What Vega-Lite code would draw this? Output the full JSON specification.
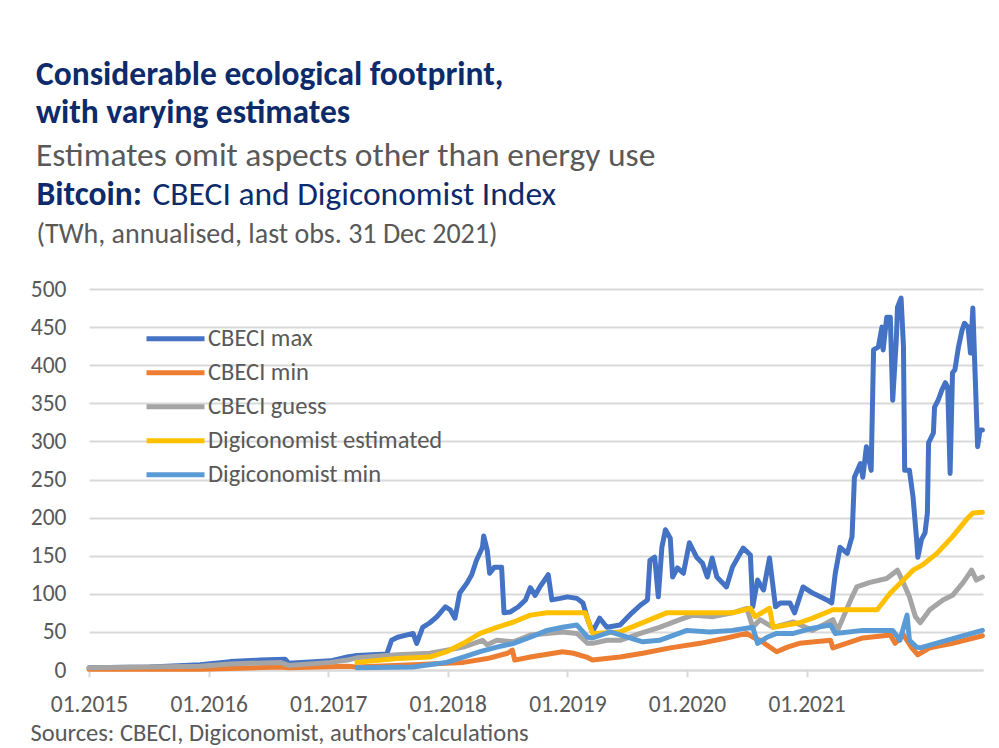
{
  "$schema": "https://vega.github.io/schema/vega-lite/v6.json",
  "autosize": {"type": "none"},
  "width": 894,
  "height": 381,
  "padding": {"left": 89, "top": 289, "right": 16, "bottom": 78},
  "background": "white",
  "title": {
    "text": ["Considerable ecological footprint,", "with varying estimates"],
    "subtitle": "Estimates omit  aspects other than energy use",
    "anchor": "start",
    "frame": "group",
    "dx": -53,
    "offset": 4,
    "font": "Calibri, Carlito, Lato, sans-serif",
    "fontSize": 33.5,
    "fontWeight": "bold",
    "color": "#0D2B6B",
    "lineHeight": 38,
    "subtitleFont": "Calibri, Carlito, Lato, sans-serif",
    "subtitleFontSize": 33.5,
    "subtitleColor": "#595959",
    "subtitlePadding": 9
  },
  "datasets": {
    "cbeci": [
      {"s":"CBECI max","t":2015.00,"v":3},{"s":"CBECI max","t":2015.51,"v":4},{"s":"CBECI max","t":2015.93,"v":7},{"s":"CBECI max","t":2016.18,"v":11},{"s":"CBECI max","t":2016.43,"v":13},{"s":"CBECI max","t":2016.64,"v":14},{"s":"CBECI max","t":2016.67,"v":9},{"s":"CBECI max","t":2017.02,"v":12},{"s":"CBECI max","t":2017.16,"v":17},{"s":"CBECI max","t":2017.24,"v":19},{"s":"CBECI max","t":2017.49,"v":21},{"s":"CBECI max","t":2017.53,"v":39},{"s":"CBECI max","t":2017.58,"v":43},{"s":"CBECI max","t":2017.71,"v":48},{"s":"CBECI max","t":2017.74,"v":35},{"s":"CBECI max","t":2017.79,"v":56},{"s":"CBECI max","t":2017.85,"v":62},{"s":"CBECI max","t":2017.91,"v":70},{"s":"CBECI max","t":2017.98,"v":83},{"s":"CBECI max","t":2018.02,"v":79},{"s":"CBECI max","t":2018.06,"v":68},{"s":"CBECI max","t":2018.10,"v":101},{"s":"CBECI max","t":2018.16,"v":114},{"s":"CBECI max","t":2018.20,"v":125},{"s":"CBECI max","t":2018.24,"v":144},{"s":"CBECI max","t":2018.29,"v":161},{"s":"CBECI max","t":2018.30,"v":176},{"s":"CBECI max","t":2018.33,"v":157},{"s":"CBECI max","t":2018.35,"v":127},{"s":"CBECI max","t":2018.39,"v":135},{"s":"CBECI max","t":2018.45,"v":135},{"s":"CBECI max","t":2018.47,"v":75},{"s":"CBECI max","t":2018.52,"v":76},{"s":"CBECI max","t":2018.59,"v":83},{"s":"CBECI max","t":2018.65,"v":92},{"s":"CBECI max","t":2018.69,"v":108},{"s":"CBECI max","t":2018.73,"v":98},{"s":"CBECI max","t":2018.77,"v":109},{"s":"CBECI max","t":2018.84,"v":125},{"s":"CBECI max","t":2018.87,"v":92},{"s":"CBECI max","t":2018.94,"v":94},{"s":"CBECI max","t":2019.00,"v":96},{"s":"CBECI max","t":2019.08,"v":94},{"s":"CBECI max","t":2019.13,"v":88},{"s":"CBECI max","t":2019.17,"v":66},{"s":"CBECI max","t":2019.21,"v":50},{"s":"CBECI max","t":2019.27,"v":68},{"s":"CBECI max","t":2019.33,"v":56},{"s":"CBECI max","t":2019.44,"v":59},{"s":"CBECI max","t":2019.54,"v":75},{"s":"CBECI max","t":2019.61,"v":85},{"s":"CBECI max","t":2019.67,"v":92},{"s":"CBECI max","t":2019.69,"v":144},{"s":"CBECI max","t":2019.73,"v":148},{"s":"CBECI max","t":2019.76,"v":96},{"s":"CBECI max","t":2019.79,"v":161},{"s":"CBECI max","t":2019.82,"v":184},{"s":"CBECI max","t":2019.86,"v":173},{"s":"CBECI max","t":2019.88,"v":122},{"s":"CBECI max","t":2019.92,"v":134},{"s":"CBECI max","t":2019.97,"v":127},{"s":"CBECI max","t":2020.02,"v":167},{"s":"CBECI max","t":2020.08,"v":148},{"s":"CBECI max","t":2020.13,"v":140},{"s":"CBECI max","t":2020.17,"v":122},{"s":"CBECI max","t":2020.21,"v":147},{"s":"CBECI max","t":2020.25,"v":122},{"s":"CBECI max","t":2020.30,"v":114},{"s":"CBECI max","t":2020.33,"v":109},{"s":"CBECI max","t":2020.38,"v":135},{"s":"CBECI max","t":2020.47,"v":160},{"s":"CBECI max","t":2020.53,"v":151},{"s":"CBECI max","t":2020.55,"v":83},{"s":"CBECI max","t":2020.59,"v":118},{"s":"CBECI max","t":2020.64,"v":105},{"s":"CBECI max","t":2020.69,"v":147},{"s":"CBECI max","t":2020.74,"v":83},{"s":"CBECI max","t":2020.78,"v":88},{"s":"CBECI max","t":2020.86,"v":88},{"s":"CBECI max","t":2020.90,"v":75},{"s":"CBECI max","t":2020.97,"v":109},{"s":"CBECI max","t":2021.05,"v":101},{"s":"CBECI max","t":2021.17,"v":92},{"s":"CBECI max","t":2021.21,"v":88},{"s":"CBECI max","t":2021.24,"v":127},{"s":"CBECI max","t":2021.28,"v":161},{"s":"CBECI max","t":2021.34,"v":153},{"s":"CBECI max","t":2021.38,"v":175},{"s":"CBECI max","t":2021.40,"v":253},{"s":"CBECI max","t":2021.45,"v":271},{"s":"CBECI max","t":2021.47,"v":253},{"s":"CBECI max","t":2021.50,"v":293},{"s":"CBECI max","t":2021.54,"v":262},{"s":"CBECI max","t":2021.56,"v":420},{"s":"CBECI max","t":2021.60,"v":424},{"s":"CBECI max","t":2021.63,"v":450},{"s":"CBECI max","t":2021.64,"v":420},{"s":"CBECI max","t":2021.67,"v":463},{"s":"CBECI max","t":2021.70,"v":463},{"s":"CBECI max","t":2021.72,"v":354},{"s":"CBECI max","t":2021.75,"v":433},{"s":"CBECI max","t":2021.76,"v":476},{"s":"CBECI max","t":2021.79,"v":488},{"s":"CBECI max","t":2021.81,"v":424},{"s":"CBECI max","t":2021.82,"v":262},{"s":"CBECI max","t":2021.86,"v":262},{"s":"CBECI max","t":2021.89,"v":227},{"s":"CBECI max","t":2021.92,"v":171},{"s":"CBECI max","t":2021.93,"v":148},{"s":"CBECI max","t":2021.96,"v":171},{"s":"CBECI max","t":2021.99,"v":180},{"s":"CBECI max","t":2022.01,"v":206},{"s":"CBECI max","t":2022.02,"v":298},{"s":"CBECI max","t":2022.06,"v":311},{"s":"CBECI max","t":2022.07,"v":345},{"s":"CBECI max","t":2022.10,"v":354},{"s":"CBECI max","t":2022.13,"v":367},{"s":"CBECI max","t":2022.16,"v":377},{"s":"CBECI max","t":2022.18,"v":371},{"s":"CBECI max","t":2022.20,"v":258},{"s":"CBECI max","t":2022.22,"v":390},{"s":"CBECI max","t":2022.24,"v":394},{"s":"CBECI max","t":2022.27,"v":424},{"s":"CBECI max","t":2022.30,"v":446},{"s":"CBECI max","t":2022.32,"v":455},{"s":"CBECI max","t":2022.35,"v":450},{"s":"CBECI max","t":2022.37,"v":416},{"s":"CBECI max","t":2022.39,"v":475},{"s":"CBECI max","t":2022.43,"v":293},{"s":"CBECI max","t":2022.45,"v":315},{"s":"CBECI max","t":2022.47,"v":315},
      {"s":"CBECI min","t":2015.00,"v":1},{"s":"CBECI min","t":2015.93,"v":1},{"s":"CBECI min","t":2016.18,"v":2},{"s":"CBECI min","t":2016.60,"v":4},{"s":"CBECI min","t":2016.67,"v":3},{"s":"CBECI min","t":2017.16,"v":5},{"s":"CBECI min","t":2017.24,"v":4},{"s":"CBECI min","t":2017.71,"v":7},{"s":"CBECI min","t":2018.13,"v":10},{"s":"CBECI min","t":2018.33,"v":15},{"s":"CBECI min","t":2018.50,"v":22},{"s":"CBECI min","t":2018.54,"v":26},{"s":"CBECI min","t":2018.56,"v":13},{"s":"CBECI min","t":2018.69,"v":17},{"s":"CBECI min","t":2018.96,"v":24},{"s":"CBECI min","t":2019.05,"v":22},{"s":"CBECI min","t":2019.16,"v":17},{"s":"CBECI min","t":2019.21,"v":13},{"s":"CBECI min","t":2019.44,"v":17},{"s":"CBECI min","t":2019.63,"v":22},{"s":"CBECI min","t":2019.86,"v":29},{"s":"CBECI min","t":2020.11,"v":35},{"s":"CBECI min","t":2020.33,"v":42},{"s":"CBECI min","t":2020.50,"v":48},{"s":"CBECI min","t":2020.55,"v":43},{"s":"CBECI min","t":2020.61,"v":39},{"s":"CBECI min","t":2020.75,"v":24},{"s":"CBECI min","t":2020.84,"v":30},{"s":"CBECI min","t":2020.94,"v":35},{"s":"CBECI min","t":2021.20,"v":39},{"s":"CBECI min","t":2021.22,"v":29},{"s":"CBECI min","t":2021.47,"v":42},{"s":"CBECI min","t":2021.70,"v":46},{"s":"CBECI min","t":2021.74,"v":35},{"s":"CBECI min","t":2021.81,"v":46},{"s":"CBECI min","t":2021.88,"v":29},{"s":"CBECI min","t":2021.93,"v":20},{"s":"CBECI min","t":2022.03,"v":29},{"s":"CBECI min","t":2022.22,"v":35},{"s":"CBECI min","t":2022.47,"v":45},
      {"s":"CBECI guess","t":2015.00,"v":3},{"s":"CBECI guess","t":2015.93,"v":5},{"s":"CBECI guess","t":2016.18,"v":8},{"s":"CBECI guess","t":2016.60,"v":10},{"s":"CBECI guess","t":2016.67,"v":6},{"s":"CBECI guess","t":2017.02,"v":10},{"s":"CBECI guess","t":2017.16,"v":13},{"s":"CBECI guess","t":2017.24,"v":16},{"s":"CBECI guess","t":2017.58,"v":20},{"s":"CBECI guess","t":2017.85,"v":22},{"s":"CBECI guess","t":2018.13,"v":30},{"s":"CBECI guess","t":2018.29,"v":39},{"s":"CBECI guess","t":2018.33,"v":33},{"s":"CBECI guess","t":2018.41,"v":39},{"s":"CBECI guess","t":2018.55,"v":37},{"s":"CBECI guess","t":2018.69,"v":46},{"s":"CBECI guess","t":2018.83,"v":48},{"s":"CBECI guess","t":2018.96,"v":50},{"s":"CBECI guess","t":2019.08,"v":48},{"s":"CBECI guess","t":2019.17,"v":35},{"s":"CBECI guess","t":2019.21,"v":35},{"s":"CBECI guess","t":2019.33,"v":39},{"s":"CBECI guess","t":2019.44,"v":39},{"s":"CBECI guess","t":2019.61,"v":48},{"s":"CBECI guess","t":2019.77,"v":56},{"s":"CBECI guess","t":2019.94,"v":66},{"s":"CBECI guess","t":2020.05,"v":72},{"s":"CBECI guess","t":2020.22,"v":70},{"s":"CBECI guess","t":2020.38,"v":75},{"s":"CBECI guess","t":2020.50,"v":81},{"s":"CBECI guess","t":2020.55,"v":56},{"s":"CBECI guess","t":2020.61,"v":66},{"s":"CBECI guess","t":2020.72,"v":56},{"s":"CBECI guess","t":2020.89,"v":63},{"s":"CBECI guess","t":2021.05,"v":52},{"s":"CBECI guess","t":2021.22,"v":66},{"s":"CBECI guess","t":2021.26,"v":52},{"s":"CBECI guess","t":2021.38,"v":96},{"s":"CBECI guess","t":2021.42,"v":109},{"s":"CBECI guess","t":2021.53,"v":115},{"s":"CBECI guess","t":2021.67,"v":120},{"s":"CBECI guess","t":2021.76,"v":131},{"s":"CBECI guess","t":2021.81,"v":114},{"s":"CBECI guess","t":2021.86,"v":96},{"s":"CBECI guess","t":2021.91,"v":70},{"s":"CBECI guess","t":2021.95,"v":62},{"s":"CBECI guess","t":2022.03,"v":79},{"s":"CBECI guess","t":2022.14,"v":92},{"s":"CBECI guess","t":2022.22,"v":98},{"s":"CBECI guess","t":2022.31,"v":115},{"s":"CBECI guess","t":2022.38,"v":131},{"s":"CBECI guess","t":2022.42,"v":118},{"s":"CBECI guess","t":2022.47,"v":122}
    ],
    "digi": [
      {"s":"Digiconomist estimated","t":2017.24,"v":10},{"s":"Digiconomist estimated","t":2017.58,"v":15},{"s":"Digiconomist estimated","t":2017.85,"v":17},{"s":"Digiconomist estimated","t":2017.99,"v":24},{"s":"Digiconomist estimated","t":2018.13,"v":35},{"s":"Digiconomist estimated","t":2018.27,"v":48},{"s":"Digiconomist estimated","t":2018.41,"v":56},{"s":"Digiconomist estimated","t":2018.55,"v":63},{"s":"Digiconomist estimated","t":2018.69,"v":72},{"s":"Digiconomist estimated","t":2018.83,"v":75},{"s":"Digiconomist estimated","t":2019.15,"v":75},{"s":"Digiconomist estimated","t":2019.21,"v":48},{"s":"Digiconomist estimated","t":2019.44,"v":50},{"s":"Digiconomist estimated","t":2019.83,"v":75},{"s":"Digiconomist estimated","t":2020.38,"v":75},{"s":"Digiconomist estimated","t":2020.53,"v":81},{"s":"Digiconomist estimated","t":2020.57,"v":70},{"s":"Digiconomist estimated","t":2020.69,"v":81},{"s":"Digiconomist estimated","t":2020.72,"v":56},{"s":"Digiconomist estimated","t":2020.94,"v":62},{"s":"Digiconomist estimated","t":2021.05,"v":68},{"s":"Digiconomist estimated","t":2021.22,"v":79},{"s":"Digiconomist estimated","t":2021.59,"v":79},{"s":"Digiconomist estimated","t":2021.70,"v":101},{"s":"Digiconomist estimated","t":2021.81,"v":118},{"s":"Digiconomist estimated","t":2021.89,"v":131},{"s":"Digiconomist estimated","t":2021.97,"v":138},{"s":"Digiconomist estimated","t":2022.09,"v":153},{"s":"Digiconomist estimated","t":2022.22,"v":175},{"s":"Digiconomist estimated","t":2022.34,"v":198},{"s":"Digiconomist estimated","t":2022.39,"v":206},{"s":"Digiconomist estimated","t":2022.47,"v":207},
      {"s":"Digiconomist min","t":2017.24,"v":3},{"s":"Digiconomist min","t":2017.71,"v":4},{"s":"Digiconomist min","t":2017.99,"v":10},{"s":"Digiconomist min","t":2018.13,"v":17},{"s":"Digiconomist min","t":2018.27,"v":24},{"s":"Digiconomist min","t":2018.41,"v":30},{"s":"Digiconomist min","t":2018.55,"v":35},{"s":"Digiconomist min","t":2018.69,"v":43},{"s":"Digiconomist min","t":2018.83,"v":52},{"s":"Digiconomist min","t":2018.96,"v":56},{"s":"Digiconomist min","t":2019.08,"v":59},{"s":"Digiconomist min","t":2019.17,"v":43},{"s":"Digiconomist min","t":2019.21,"v":42},{"s":"Digiconomist min","t":2019.36,"v":50},{"s":"Digiconomist min","t":2019.63,"v":37},{"s":"Digiconomist min","t":2019.77,"v":39},{"s":"Digiconomist min","t":2020.00,"v":52},{"s":"Digiconomist min","t":2020.19,"v":50},{"s":"Digiconomist min","t":2020.38,"v":52},{"s":"Digiconomist min","t":2020.55,"v":56},{"s":"Digiconomist min","t":2020.59,"v":35},{"s":"Digiconomist min","t":2020.67,"v":43},{"s":"Digiconomist min","t":2020.75,"v":48},{"s":"Digiconomist min","t":2020.89,"v":48},{"s":"Digiconomist min","t":2021.05,"v":55},{"s":"Digiconomist min","t":2021.20,"v":59},{"s":"Digiconomist min","t":2021.24,"v":48},{"s":"Digiconomist min","t":2021.47,"v":52},{"s":"Digiconomist min","t":2021.72,"v":52},{"s":"Digiconomist min","t":2021.78,"v":39},{"s":"Digiconomist min","t":2021.84,"v":72},{"s":"Digiconomist min","t":2021.86,"v":39},{"s":"Digiconomist min","t":2021.92,"v":30},{"s":"Digiconomist min","t":2021.95,"v":29},{"s":"Digiconomist min","t":2022.17,"v":39},{"s":"Digiconomist min","t":2022.47,"v":52}
    ]
  },
  "resolve": {"axis": {"x": "independent", "y": "independent"}},
  "layer": [
    {
      "data": {"name": "cbeci"},
      "mark": {"type": "line", "strokeWidth": 5, "strokeJoin": "round", "strokeCap": "round"},
      "encoding": {
        "x": {
          "field": "t", "type": "quantitative",
          "scale": {"domain": [2015, 2022.475], "nice": false, "zero": false},
          "axis": {
            "values": [2015, 2016, 2017, 2018, 2019, 2020, 2021],
            "labelExpr": "'01.' + datum.value",
            "grid": false, "domainColor": "#D9D9D9", "domainWidth": 2,
            "tickColor": "#D9D9D9", "tickWidth": 2, "tickSize": 7,
            "labelFont": "Calibri, Carlito, Lato, sans-serif", "labelFontSize": 23.5, "labelColor": "#595959",
            "labelPadding": 15, "labelFlush": false,
            "title": "Sources: CBECI, Digiconomist, authors'calculations",
            "titleFont": "Calibri, Carlito, Lato, sans-serif", "titleFontSize": 24.5, "titleFontWeight": "normal", "titleColor": "#595959",
            "titleAlign": "left", "titleAnchor": null, "titleBaseline": "alphabetic", "titleX": -59, "titleY": 70
          }
        },
        "y": {
          "field": "v", "type": "quantitative",
          "scale": {"domain": [0, 500], "nice": false},
          "axis": {
            "values": [0, 50, 100, 150, 200, 250, 300, 350, 400, 450, 500],
            "grid": true, "gridColor": "#D9D9D9", "gridWidth": 2,
            "domain": false, "ticks": false, "tickSize": 0,
            "labelFont": "Calibri, Carlito, Lato, sans-serif", "labelFontSize": 23.5, "labelColor": "#595959", "labelPadding": 23,
            "title": "(TWh, annualised, last obs. 31 Dec 2021)",
            "titleFont": "Calibri, Carlito, Lato, sans-serif", "titleFontSize": 28, "titleFontWeight": "normal", "titleColor": "#595959",
            "titleAngle": 0, "titleAlign": "left", "titleAnchor": null, "titleBaseline": "alphabetic", "titleX": -53, "titleY": -47
          }
        },
        "color": {
          "field": "s", "type": "nominal",
          "scale": {
            "domain": ["CBECI max", "CBECI min", "CBECI guess", "Digiconomist estimated", "Digiconomist min"],
            "range": ["#4472C4", "#ED7D31", "#A5A5A5", "#FFC000", "#5B9BD5"]
          },
          "legend": {
            "orient": "none", "legendX": 55, "legendY": 33, "title": null,
            "symbolType": "stroke", "symbolSize": 3364, "symbolStrokeWidth": 5,
            "clipHeight": 33.3, "rowPadding": 0, "padding": 0, "labelOffset": 1, "labelLimit": 500,
            "labelFont": "Calibri, Carlito, Lato, sans-serif", "labelFontSize": 24.5, "labelColor": "#595959"
          }
        }
      }
    },
    {
      "data": {"name": "digi"},
      "mark": {"type": "line", "strokeWidth": 5, "strokeJoin": "round", "strokeCap": "round"},
      "encoding": {
        "x": {
          "field": "t", "type": "quantitative",
          "scale": {"domain": [2015, 2022.475], "nice": false, "zero": false},
          "axis": {
            "orient": "top", "labels": false, "ticks": false, "domain": false, "grid": false,
            "title": "Bitcoin:",
            "titleFont": "Calibri, Carlito, Lato, sans-serif", "titleFontSize": 33.5, "titleFontWeight": "bold", "titleColor": "#0D2B6B",
            "titleAlign": "left", "titleAnchor": null, "titleBaseline": "alphabetic", "titleX": -53, "titleY": -85
          }
        },
        "y": {
          "field": "v", "type": "quantitative",
          "scale": {"domain": [0, 500], "nice": false},
          "axis": {
            "orient": "right", "labels": false, "ticks": false, "domain": false, "grid": false,
            "title": "CBECI and Digiconomist  Index",
            "titleFont": "Calibri, Carlito, Lato, sans-serif", "titleFontSize": 33.5, "titleFontWeight": "normal", "titleColor": "#0D2B6B",
            "titleAngle": 0, "titleAlign": "left", "titleAnchor": null, "titleBaseline": "alphabetic", "titleX": -831, "titleY": -85
          }
        },
        "color": {
          "field": "s", "type": "nominal",
          "scale": {
            "domain": ["CBECI max", "CBECI min", "CBECI guess", "Digiconomist estimated", "Digiconomist min"],
            "range": ["#4472C4", "#ED7D31", "#A5A5A5", "#FFC000", "#5B9BD5"]
          }
        }
      }
    }
  ],
  "config": {
    "view": {"stroke": null},
    "font": "Calibri, Carlito, Lato, sans-serif"
  }
}
